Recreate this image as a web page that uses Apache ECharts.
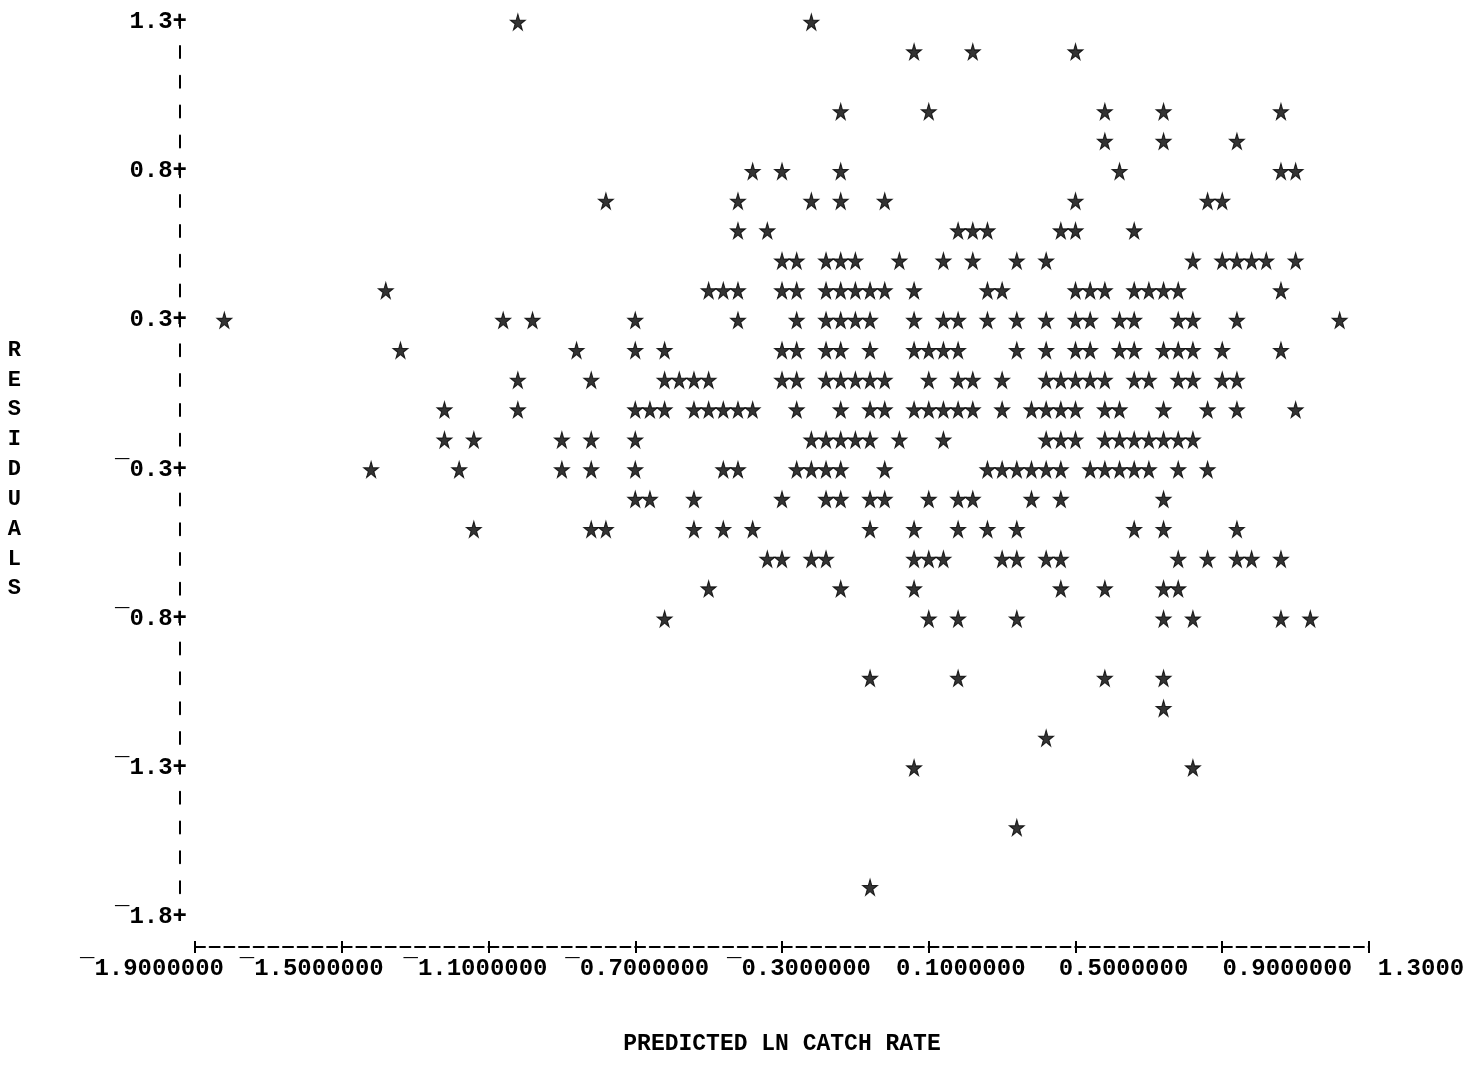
<!DOCTYPE html>
<html>
<head>
<meta charset="utf-8">
<script src="https://cdn.jsdelivr.net/npm/echarts@6/dist/echarts.min.js"></script>
<style>
html,body{margin:0;padding:0;background:#fff;}
#chart{width:1484px;height:1084px;}
</style>
</head>
<body>
<div id="chart"></div>
<script>
// ---------- DATA ----------
// residual level of each printed row (top to bottom)
const residualLevels = [1.3, 1.197, 1.093, 0.99, 0.887, 0.783, 0.68, 0.577, 0.473, 0.37,
  0.267, 0.163, 0.06, -0.043, -0.147, -0.25, -0.353, -0.457, -0.56, -0.663,
  -0.767, -0.87, -0.973, -1.077, -1.18, -1.283, -1.387, -1.49, -1.593, -1.697, -1.8];

// predicted ln catch rate of every star printed on each row
const predictedAtLevel = [
  [-1.02, -0.22],
  [0.06, 0.22, 0.50],
  [],
  [-0.14, 0.10, 0.58, 0.74, 1.06],
  [0.58, 0.74, 0.94],
  [-0.38, -0.30, -0.14, 0.62, 1.06, 1.10],
  [-0.78, -0.42, -0.22, -0.14, -0.02, 0.50, 0.86, 0.90],
  [-0.42, -0.34, 0.18, 0.22, 0.26, 0.46, 0.50, 0.66],
  [-0.30, -0.26, -0.18, -0.14, -0.10, 0.02, 0.14, 0.22, 0.34, 0.42, 0.82, 0.90, 0.94, 0.98, 1.02, 1.10],
  [-1.38, -0.50, -0.46, -0.42, -0.30, -0.26, -0.18, -0.14, -0.10, -0.06, -0.02, 0.06, 0.26, 0.30, 0.50, 0.54, 0.58, 0.66, 0.70, 0.74, 0.78, 1.06],
  [-1.82, -1.06, -0.98, -0.70, -0.42, -0.26, -0.18, -0.14, -0.10, -0.06, 0.06, 0.14, 0.18, 0.26, 0.34, 0.42, 0.50, 0.54, 0.62, 0.66, 0.78, 0.82, 0.94, 1.22],
  [-1.34, -0.86, -0.70, -0.62, -0.30, -0.26, -0.18, -0.14, -0.06, 0.06, 0.10, 0.14, 0.18, 0.34, 0.42, 0.50, 0.54, 0.62, 0.66, 0.74, 0.78, 0.82, 0.90, 1.06],
  [-1.02, -0.82, -0.62, -0.58, -0.54, -0.50, -0.30, -0.26, -0.18, -0.14, -0.10, -0.06, -0.02, 0.10, 0.18, 0.22, 0.30, 0.42, 0.46, 0.50, 0.54, 0.58, 0.66, 0.70, 0.78, 0.82, 0.90, 0.94],
  [-1.22, -1.02, -0.70, -0.66, -0.62, -0.54, -0.50, -0.46, -0.42, -0.38, -0.26, -0.14, -0.06, -0.02, 0.06, 0.10, 0.14, 0.18, 0.22, 0.30, 0.38, 0.42, 0.46, 0.50, 0.58, 0.62, 0.74, 0.86, 0.94, 1.10],
  [-1.22, -1.14, -0.90, -0.82, -0.70, -0.22, -0.18, -0.14, -0.10, -0.06, 0.02, 0.14, 0.42, 0.46, 0.50, 0.58, 0.62, 0.66, 0.70, 0.74, 0.78, 0.82],
  [-1.42, -1.18, -0.90, -0.82, -0.70, -0.46, -0.42, -0.26, -0.22, -0.18, -0.14, -0.02, 0.26, 0.30, 0.34, 0.38, 0.42, 0.46, 0.54, 0.58, 0.62, 0.66, 0.70, 0.78, 0.86],
  [-0.70, -0.66, -0.54, -0.30, -0.18, -0.14, -0.06, -0.02, 0.10, 0.18, 0.22, 0.38, 0.46, 0.74],
  [-1.14, -0.82, -0.78, -0.54, -0.46, -0.38, -0.06, 0.06, 0.18, 0.26, 0.34, 0.66, 0.74, 0.94],
  [-0.34, -0.30, -0.22, -0.18, 0.06, 0.10, 0.14, 0.30, 0.34, 0.42, 0.46, 0.78, 0.86, 0.94, 0.98, 1.06],
  [-0.50, -0.14, 0.06, 0.46, 0.58, 0.74, 0.78],
  [-0.62, 0.10, 0.18, 0.34, 0.74, 0.82, 1.06, 1.14],
  [],
  [-0.06, 0.18, 0.58, 0.74],
  [0.74],
  [0.42],
  [0.06, 0.82],
  [],
  [0.34],
  [],
  [-0.06],
  []
];

// axis ticks and their printed labels
const xTickValues = [-1.9, -1.5, -1.1, -0.7, -0.3, 0.1, 0.5, 0.9, 1.3];
const xTickLabels = ['\u00AF1.9000000', '\u00AF1.5000000', '\u00AF1.1000000', '\u00AF0.7000000',
  '\u00AF0.3000000', '0.1000000', '0.5000000', '0.9000000', '1.3000'];
const yTickValues = [1.3, 0.783, 0.267, -0.25, -0.767, -1.283, -1.8];
const yTickLabels = ['1.3', '0.8', '0.3', '\u00AF0.3', '\u00AF0.8', '\u00AF1.3', '\u00AF1.8'];
const xTitle = 'PREDICTED LN CATCH RATE';
const yTitle = 'RESIDUALS';

// ---------- layout / style ----------
const FONT = '"Liberation Mono", "DejaVu Sans Mono", monospace';
const xLabelShift = [-43, -30, -13, 2, 17, 32, 48, 65, 52]; // printed label line drifts from ticks

// ---------- build ----------
const points = [];
residualLevels.forEach((yv, r) => {
  predictedAtLevel[r].forEach(xv => points.push([xv, yv]));
});

function idxOf(arr, v) {
  for (let i = 0; i < arr.length; i++) if (Math.abs(arr[i] - v) < 1e-6) return i;
  return -1;
}

const rich = {};
xLabelShift.forEach((d, i) => {
  rich['s' + i] = {
    fontFamily: FONT, fontSize: 24, fontWeight: 'bold', color: '#000',
    padding: d >= 0 ? [0, 0, 0, 2 * d] : [0, -2 * d, 0, 0]
  };
});

const starPath = 'path://M50,0 L61,35 L98,35 L68,57 L79,91 L50,70 L21,91 L32,57 L2,35 L39,35 Z';

const chart = echarts.init(document.getElementById('chart'), null, {renderer: 'canvas'});
const option = {
  backgroundColor: '#ffffff',
  animation: false,
  grid: {left: 195, right: 115, top: 22, bottom: 167, containLabel: false},
  xAxis: [{
    type: 'value', min: -1.9, max: 1.3, position: 'bottom', offset: 30,
    axisLine: {show: true, onZero: false, lineStyle: {color: '#000', width: 2, type: [10, 4.67], dashOffset: 0}},
    axisTick: {show: true, inside: false, length: 6, lineStyle: {color: '#000', width: 2}, customValues: xTickValues},
    axisLabel: {
      show: true, customValues: xTickValues, margin: 10, showMinLabel: true, showMaxLabel: true,
      fontFamily: FONT, fontSize: 24, fontWeight: 'bold', color: '#000',
      formatter: function (v) {
        const i = idxOf(xTickValues, v);
        return i < 0 ? '' : '{s' + i + '|' + xTickLabels[i] + '}';
      },
      rich: rich
    },
    splitLine: {show: false},
    name: xTitle, nameLocation: 'middle', nameGap: 86,
    nameTextStyle: {fontFamily: FONT, fontSize: 23, fontWeight: 'bold', color: '#000'}
  }, {
    type: 'value', min: -1.9, max: 1.3, position: 'bottom', offset: 30,
    axisLine: {show: false, onZero: false},
    axisTick: {show: true, inside: true, length: 6, lineStyle: {color: '#000', width: 2}, customValues: xTickValues},
    axisLabel: {show: false},
    splitLine: {show: false}
  }],
  yAxis: {
    type: 'value', min: -1.8, max: 1.3, position: 'left', offset: 15,
    axisLine: {show: true, onZero: false, lineStyle: {color: '#000', width: 2, type: [12, 17.83], dashOffset: 6}},
    axisTick: {show: false},
    axisLabel: {
      show: true, customValues: yTickValues, margin: -7, showMinLabel: true, showMaxLabel: true,
      fontFamily: FONT, fontSize: 24, fontWeight: 'bold', color: '#000',
      formatter: function (v) {
        const i = idxOf(yTickValues, v);
        return i < 0 ? '' : yTickLabels[i] + '+';
      }
    },
    splitLine: {show: false},
    name: yTitle.split('').join('\n'), nameLocation: 'middle', nameRotate: 0, nameGap: 159,
    nameTextStyle: {fontFamily: FONT, fontSize: 22, fontWeight: 'bold', lineHeight: 29.83, color: '#000'}
  },
  series: [{
    type: 'scatter',
    xAxisIndex: 0,
    data: points,
    symbol: starPath,
    symbolSize: [15, 16],
    itemStyle: {color: '#000', borderColor: '#000', borderWidth: 1},
    silent: true
  }]
};
chart.setOption(option);
</script>
</body>
</html>
